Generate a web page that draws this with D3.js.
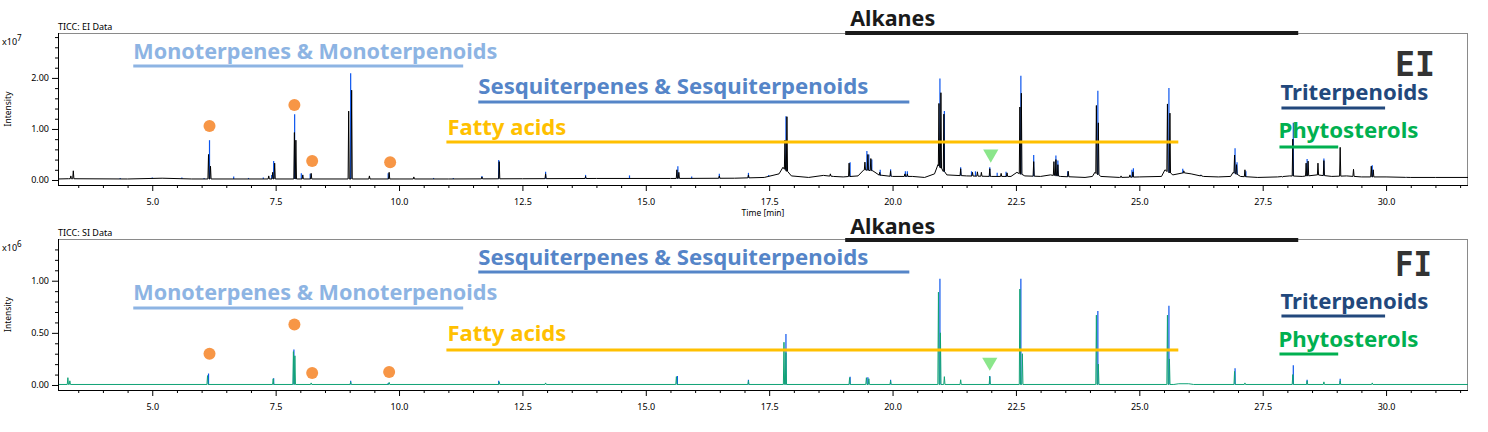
<!DOCTYPE html>
<html><head><meta charset="utf-8">
<script src="https://cdn.jsdelivr.net/npm/d3@7"></script>
<style>body{margin:0;background:#fff;} svg{display:block;font-family:"Noto Sans",sans-serif;}</style>
</head><body><svg id="c" width="1488" height="432"></svg>
<script>
// ---------------- DATA ----------------
const timeDomain = [3.09, 31.66];
const xTickValues = [5, 7.5, 10, 12.5, 15, 17.5, 20, 22.5, 25, 27.5, 30];
const xTickLabels = ["5.0","7.5","10.0","12.5","15.0","17.5","20.0","22.5","25.0","27.5","30.0"];
const eiYTicks = [0, 1, 2];
const eiYLabels = ["0.00","1.00","2.00"];
const fiYTicks = [0, 0.5, 1];
const fiYLabels = ["0.00","0.50","1.00"];

// EI (x10^7) baseline of the TIC trace [time, intensity]
const eiBaseline = [[3.09,0.02],[3.3,0.025],[4.5,0.02],[5.2,0.035],[5.8,0.02],[8.0,0.02],[10,0.02],[11,0.02],[12.5,0.025],[14,0.03],[15.5,0.03],[16.8,0.035],[17.4,0.05],[17.7,0.12],[17.78,0.25],[17.95,0.08],[18.3,0.05],[18.6,0.09],[18.8,0.07],[19.0,0.06],[19.3,0.08],[19.42,0.2],[19.6,0.18],[19.75,0.09],[20.0,0.07],[20.4,0.07],[20.65,0.05],[20.85,0.12],[20.92,0.3],[21.1,0.1],[21.5,0.08],[22.0,0.07],[22.4,0.07],[22.52,0.15],[22.68,0.08],[23.0,0.07],[23.2,0.1],[23.4,0.07],[23.9,0.05],[24.05,0.07],[24.1,0.15],[24.22,0.07],[24.6,0.05],[25.0,0.06],[25.45,0.07],[25.52,0.2],[25.68,0.1],[25.9,0.14],[26.05,0.12],[26.3,0.07],[26.6,0.06],[26.85,0.07],[26.9,0.15],[27.05,0.07],[27.4,0.05],[27.8,0.06],[28.05,0.08],[28.3,0.07],[28.6,0.1],[28.9,0.07],[29.2,0.08],[29.5,0.06],[30.0,0.06],[30.5,0.05],[31.0,0.05],[31.66,0.05]];
// EI TIC peaks (black) [time, apex]
const eiPeaks = [[3.35,0.08],[3.40,0.18],[6.14,0.50],[6.18,0.27],[7.36,0.08],[7.44,0.15],[7.48,0.33],[7.88,0.93],[7.91,0.78],[8.05,0.10],[8.22,0.13],[8.98,1.35],[9.04,1.76],[9.40,0.08],[9.80,0.15],[10.3,0.06],[11.68,0.06],[12.03,0.36],[12.97,0.12],[13.78,0.07],[15.63,0.20],[15.67,0.15],[16.49,0.08],[17.08,0.10],[17.82,0.78],[17.86,1.24],[18.74,0.12],[19.12,0.33],[19.44,0.35],[19.50,0.50],[19.56,0.42],[19.74,0.15],[19.96,0.18],[20.25,0.12],[20.30,0.12],[20.94,1.50],[20.98,1.71],[21.04,1.29],[21.38,0.22],[21.62,0.15],[21.72,0.16],[21.80,0.15],[21.97,0.22],[22.20,0.13],[22.32,0.14],[22.58,1.43],[22.61,1.70],[22.86,0.36],[23.27,0.36],[23.31,0.40],[23.35,0.30],[23.56,0.17],[24.13,1.46],[24.17,1.12],[24.63,0.08],[24.81,0.10],[24.87,0.16],[25.57,1.49],[25.62,1.31],[25.90,0.18],[26.25,0.10],[26.93,0.49],[26.97,0.30],[27.14,0.20],[27.9,0.06],[28.11,0.80],[28.38,0.33],[28.42,0.37],[28.62,0.33],[28.74,0.38],[29.07,0.64],[29.34,0.21],[29.70,0.27],[29.74,0.20],[30.4,0.05]];
// EI highlighted ion spikes (blue) [time, apex]
const eiBlue = [[4.35,0.04],[5.0,0.05],[5.6,0.05],[6.05,0.04],[6.16,0.78],[6.65,0.07],[6.95,0.04],[7.25,0.05],[7.42,0.10],[7.46,0.37],[7.885,1.29],[8.02,0.13],[8.20,0.12],[9.02,2.09],[9.78,0.13],[10.7,0.04],[11.1,0.04],[11.68,0.08],[12.02,0.39],[12.97,0.16],[13.78,0.10],[14.67,0.09],[15.65,0.27],[15.93,0.07],[16.49,0.12],[17.08,0.14],[17.49,0.10],[17.84,1.25],[19.14,0.35],[19.48,0.57],[19.52,0.50],[19.58,0.40],[19.75,0.20],[19.96,0.21],[20.26,0.17],[20.30,0.17],[20.96,1.99],[21.05,1.35],[21.38,0.25],[21.60,0.17],[21.68,0.17],[21.97,0.25],[22.12,0.14],[22.30,0.16],[22.60,2.04],[22.86,0.49],[23.31,0.48],[23.35,0.38],[23.55,0.17],[24.16,1.75],[24.85,0.20],[24.88,0.23],[25.60,1.80],[25.88,0.22],[26.24,0.10],[26.94,0.62],[26.98,0.35],[27.16,0.17],[28.12,1.12],[28.40,0.41],[28.74,0.42],[29.72,0.29],[30.4,0.06]];

// FI (x10^6) baseline, peaks (green) and highlighted spikes (blue)
const fiBaseline = [[3.09,0.005],[25.7,0.005],[25.8,0.012],[26.0,0.012],[26.1,0.005],[31.66,0.005]];
const fiPeaks = [[3.29,0.07],[3.33,0.04],[6.12,0.09],[7.45,0.06],[7.86,0.32],[7.89,0.28],[8.22,0.02],[9.02,0.03],[9.80,0.025],[12.03,0.03],[12.97,0.02],[15.62,0.08],[17.08,0.04],[17.80,0.41],[17.84,0.31],[19.13,0.07],[19.47,0.07],[19.52,0.06],[19.96,0.04],[20.93,0.89],[20.97,0.50],[21.05,0.08],[21.38,0.05],[21.97,0.08],[22.58,0.92],[22.63,0.30],[24.13,0.67],[24.17,0.20],[25.57,0.67],[25.61,0.25],[26.93,0.13],[27.14,0.02],[28.11,0.10],[28.40,0.04],[28.74,0.03],[29.07,0.04],[29.72,0.02]];
const fiBlue = [[4.35,0.01],[6.14,0.11],[7.46,0.065],[7.87,0.34],[9.02,0.04],[9.78,0.02],[12.02,0.04],[15.64,0.087],[17.08,0.05],[17.84,0.49],[19.14,0.08],[19.5,0.075],[19.96,0.05],[20.96,1.02],[21.97,0.087],[22.60,1.02],[24.16,0.71],[25.60,0.76],[26.94,0.16],[28.12,0.19],[28.40,0.05],[29.07,0.06]];

// Markers: orange circles (monoterpenes) and green triangle
const eiCircles = [[6.16,1.06],[7.88,1.47],[8.24,0.37],[9.82,0.35]];
const fiCircles = [[6.16,0.30],[7.88,0.58],[8.24,0.115],[9.80,0.125]];
const eiTriangle = [[21.99,0.51]];
const fiTriangle = [[21.97,0.22]];

// Compound class labels and their retention-time spans
const groupNames = ["Alkanes","Monoterpenes & Monoterpenoids","Sesquiterpenes & Sesquiterpenoids","Fatty acids","Triterpenoids","Phytosterols"];
const groupSpans = [[19.04,28.22],[4.615,11.30],[11.606,20.34],[10.96,25.79],[27.88,29.98],[27.84,29.03]];

// ---------------- LAYOUT / STYLE ----------------
const groupStyle = [
  {color:"#1a1a1a", dx:5, tl:85, lw:4},
  {color:"#8DB4E3", dx:0, tl:364, lw:3},
  {color:"#5585C8", dx:0, tl:390, lw:3},
  {color:"#FFC000", dx:1, tl:119, lw:3},
  {color:"#22487C", dx:-1, tl:148, lw:3},
  {color:"#00B050", dx:-1, tl:140, lw:3}
];
const panels = [
  {name:"EI", title:"TICC: EI Data", exp:"7", top:33, bottom:185, yDom:[-0.098,2.88],
   yTicks:eiYTicks, yLabels:eiYLabels, minorStep:0.2, minorMax:2.81,
   base:eiBaseline, peaks:eiPeaks, blue:eiBlue, trace:"#000",
   circles:eiCircles, tri:eiTriangle, showTime:true,
   textY:[26,59,94,135,100,138], lineY:[33,66,102,142,108,147], bigY:76, bigW:40},
  {name:"FI", title:"TICC: SI Data", exp:"6", top:239, bottom:390, yDom:[-0.048,1.40],
   yTicks:fiYTicks, yLabels:fiYLabels, minorStep:0.1, minorMax:1.31,
   base:fiBaseline, peaks:fiPeaks, blue:fiBlue, trace:"#10A276",
   circles:fiCircles, tri:fiTriangle, showTime:false,
   textY:[234,300,265,341,309,347], lineY:[240,308,272,350,316,354], bigY:276, bigW:37}
];
const L = 58, R = 1468;

const svg = d3.select("#c");
const x = d3.scaleLinear().domain(timeDomain).range([L, R]);

function baseAt(base, t){
  for (let i=0;i<base.length-1;i++){
    if (t>=base[i][0] && t<=base[i+1][0]){
      const f=(t-base[i][0])/(base[i+1][0]-base[i][0]);
      return base[i][1]+f*(base[i+1][1]-base[i][1]);
    }
  }
  return base[base.length-1][1];
}

panels.forEach(p=>{
  const y = d3.scaleLinear().domain(p.yDom).range([p.bottom, p.top]);
  const g = svg.append("g");

  // frame
  g.append("line").attr("x1",L).attr("x2",R).attr("y1",p.top+0.5).attr("y2",p.top+0.5).attr("stroke","#8a8a8a");
  g.append("line").attr("x1",R-0.5).attr("x2",R-0.5).attr("y1",p.top).attr("y2",p.bottom).attr("stroke","#8a8a8a");

  const cid = "clip"+p.name;
  svg.append("clipPath").attr("id",cid).append("rect").attr("x",L).attr("y",p.top).attr("width",R-L).attr("height",p.bottom-p.top);
  const plot = g.append("g").attr("clip-path","url(#"+cid+")");

  // blue spikes (below the trace)
  plot.selectAll(".b").data(p.blue).join("line")
    .attr("x1",d=>x(d[0])).attr("x2",d=>x(d[0]))
    .attr("y1",d=>y(baseAt(p.base,d[0]))).attr("y2",d=>y(d[1]))
    .attr("stroke","#0B55EE").attr("stroke-width",1.2);

  // trace
  const hw = 0.012;
  const pts = p.base.map(d=>[d[0],d[1]]);
  p.peaks.forEach(([t,h])=>{const b=baseAt(p.base,t); pts.push([t-hw,b],[t,h],[t+hw,b]);});
  pts.sort((a,b)=>a[0]-b[0]);
  plot.append("path").attr("d", d3.line().x(d=>x(d[0])).y(d=>y(d[1]))(pts))
    .attr("fill","none").attr("stroke",p.trace).attr("stroke-width",1).attr("stroke-linejoin","round");

  // axes
  const ya = g.append("g").attr("transform",`translate(${L},0)`)
    .call(d3.axisLeft(y).tickValues(p.yTicks).tickSize(6).tickPadding(3).tickFormat((d,i)=>p.yLabels[i]));
  const yMinor = d3.range(0, p.minorMax, p.minorStep).filter(v=>!p.yTicks.some(t=>Math.abs(t-v)<1e-6));
  const ym = g.append("g").attr("transform",`translate(${L},0)`)
    .call(d3.axisLeft(y).tickValues(yMinor).tickSize(3).tickFormat(""));
  const xa = g.append("g").attr("transform",`translate(0,${p.bottom})`)
    .call(d3.axisBottom(x).tickValues(xTickValues).tickSize(6).tickPadding(8).tickFormat((d,i)=>xTickLabels[i]));
  const xMinor = d3.range(3.5, 31.6, 0.5).filter(v=>!xTickValues.includes(v));
  const xm = g.append("g").attr("transform",`translate(0,${p.bottom})`)
    .call(d3.axisBottom(x).tickValues(xMinor).tickSize(3).tickFormat(""));
  [ya,ym,xa,xm].forEach(a=>{a.select(".domain").remove(); a.selectAll("line").attr("stroke","#000");});
  [ya,xa].forEach(a=>a.selectAll("text").attr("font-size",9).attr("font-family","Noto Sans").attr("fill","#000"));
  g.append("line").attr("x1",L+0.5).attr("x2",L+0.5).attr("y1",p.top).attr("y2",p.bottom+0.5).attr("stroke","#000");
  g.append("line").attr("x1",L).attr("x2",R).attr("y1",p.bottom+0.5).attr("y2",p.bottom+0.5).attr("stroke","#000");

  // titles
  g.append("text").attr("x",L).attr("y",p.top-3).attr("font-size",9).text(p.title);
  const ex = g.append("text").attr("x",2).attr("y",p.top+12).attr("font-size",9);
  ex.append("tspan").text("x10");
  ex.append("tspan").attr("font-size",8).attr("dy",-4).text(p.exp);
  const cy = (p.top+p.bottom)/2;
  g.append("text").attr("transform",`translate(11,${cy}) rotate(-90)`).attr("text-anchor","middle").attr("font-size",8.5).text("Intensity");
  if (p.showTime) g.append("text").attr("x",(L+R)/2).attr("y",p.bottom+31).attr("text-anchor","middle").attr("font-size",8.5).text("Time [min]");

  // markers
  g.selectAll(".c").data(p.circles).join("circle").attr("cx",d=>x(d[0])).attr("cy",d=>y(d[1])).attr("r",6).attr("fill","#F79646");
  g.selectAll(".t").data(p.tri).join("path").attr("d",d3.symbol(d3.symbolTriangle,100))
    .attr("transform",d=>`translate(${x(d[0])},${y(d[1])}) rotate(180)`).attr("fill","#8BE68B");

  // group labels
  groupNames.forEach((name,i)=>{
    const st = groupStyle[i], sp = groupSpans[i];
    g.append("line").attr("x1",x(sp[0])).attr("x2",x(sp[1])).attr("y1",p.lineY[i]).attr("y2",p.lineY[i])
      .attr("stroke",st.color).attr("stroke-width",st.lw);
    g.append("text").attr("x",x(sp[0])+st.dx).attr("y",p.textY[i]).attr("font-size",22).attr("font-weight","bold")
      .attr("fill",st.color).attr("textLength",st.tl).attr("lengthAdjust","spacingAndGlyphs").text(name);
  });
  g.append("text").attr("x",1395).attr("y",p.bigY).attr("font-size",34).attr("font-weight","bold")
    .attr("font-family","DejaVu Sans Mono").attr("fill","#333").attr("textLength",p.bigW).attr("lengthAdjust","spacingAndGlyphs").text(p.name);
});
</script></body></html>
